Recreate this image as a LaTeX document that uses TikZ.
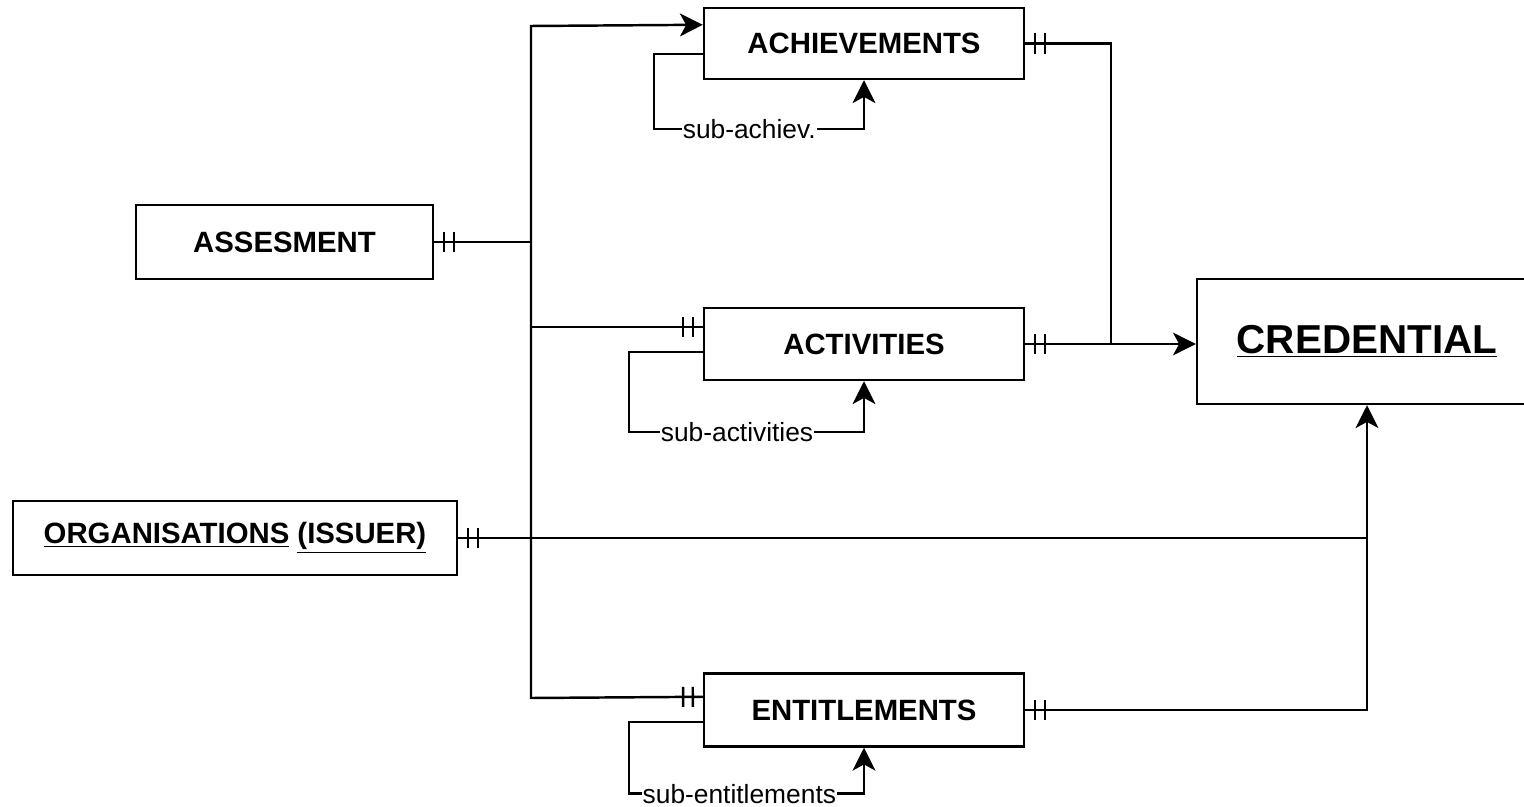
\documentclass[tikz,border=0pt]{standalone}
\usepackage{fontspec}
\setmainfont{Liberation Sans}
\usepackage{tikz}
\usetikzlibrary{arrows.meta,calc}
\usetikzlibrary{decorations.markings}

\tikzset{
  entity/.style={draw,inner sep=0pt,font=\fontsize{16.7}{20}\selectfont\bfseries},
  arr/.style={-{Stealth[length=13pt,width=13pt,inset=3.5pt]}},
  onestart/.style={postaction={decorate,decoration={markings,
      mark=at position 5.7pt with {\draw[-] (0,-5.7pt) -- (0,5.7pt);},
      mark=at position 11.2pt with {\draw[-] (0,-5.7pt) -- (0,5.7pt);}}}},
  lbl/.style={fill=white,inner sep=0.5pt,font=\fontsize{15}{18}\selectfont}
}

\begin{document}
\begin{tikzpicture}[x=0.02cm,y=-0.02cm,line width=1.4pt]
   \useasboundingbox (0,0) rectangle (1524,807);
   % entities
   \node[entity,minimum width=6.4cm,minimum height=1.42cm] (ach) at (864,43.5) {ACHIEVEMENTS};
   \node[entity,minimum width=6.4cm,minimum height=1.44cm] (act) at (864,344) {ACTIVITIES};
   \node[entity,minimum width=6.4cm,minimum height=1.46cm] (ent) at (864,710) {ENTITLEMENTS};
   \node[entity,minimum width=5.94cm,minimum height=1.48cm] (ass) at (284.5,242) {ASSESMENT};
   \node[entity,minimum width=8.88cm,minimum height=1.48cm] (org) at (235,538) {\underline{ORGANISATIONS} \underline{(ISSUER)}};
   \node[entity,minimum width=6.8cm,minimum height=2.5cm,font=\fontsize{23}{27}\selectfont\bfseries] (cred) at (1367,341.5) {\underline{CREDENTIAL}};

   % trunk from assesment
   \coordinate (top) at (531,26);
   \coordinate (bot) at (531,698);
   \coordinate (achin) at ($(ach.north west)+(0,18)$);
   \coordinate (actin) at ($(act.north west)+(0,20)$);
   \coordinate (entin) at ($(ent.north west)+(0,24.5)$);
   \draw[onestart,arr] (entin) -- (bot) -- (top) -- (achin);
   \draw[onestart] (actin) -- (actin -| top);
   \draw[onestart] (ass.east) -- (ass.east -| top);

   % into credential
   \draw[onestart] (ach.east) -| ($(act.east)+(86,0)$);
   \draw[onestart,arr] (act.east) -- (act.east -| cred.west);
   \draw[onestart,arr] (ent.east) -| (cred.south);
   \draw[onestart] (org.east) -- (org.east -| cred.south);

   % self loops
   \coordinate (achloop) at ($(ach.north west)+(0,47)$);
   \coordinate (actloop) at ($(act.north west)+(0,45)$);
   \coordinate (entloop) at ($(ent.north west)+(0,49.5)$);
   \draw[arr] (achloop) -- ++(-49,0) |- node[lbl,pos=0.727] {sub-achiev.} ($(ach.south)+(0,49)$) -- (ach.south);
   \draw[arr] (actloop) -- ++(-74,0) |- node[lbl,pos=0.73] {sub-activities} ($(act.south)+(0,51)$) -- (act.south);
   \draw[arr] (entloop) -- ++(-74,0) |- node[lbl,pos=0.735] {sub-entitlements} ($(ent.south)+(0,46)$) -- (ent.south);
\end{tikzpicture}
\end{document}
